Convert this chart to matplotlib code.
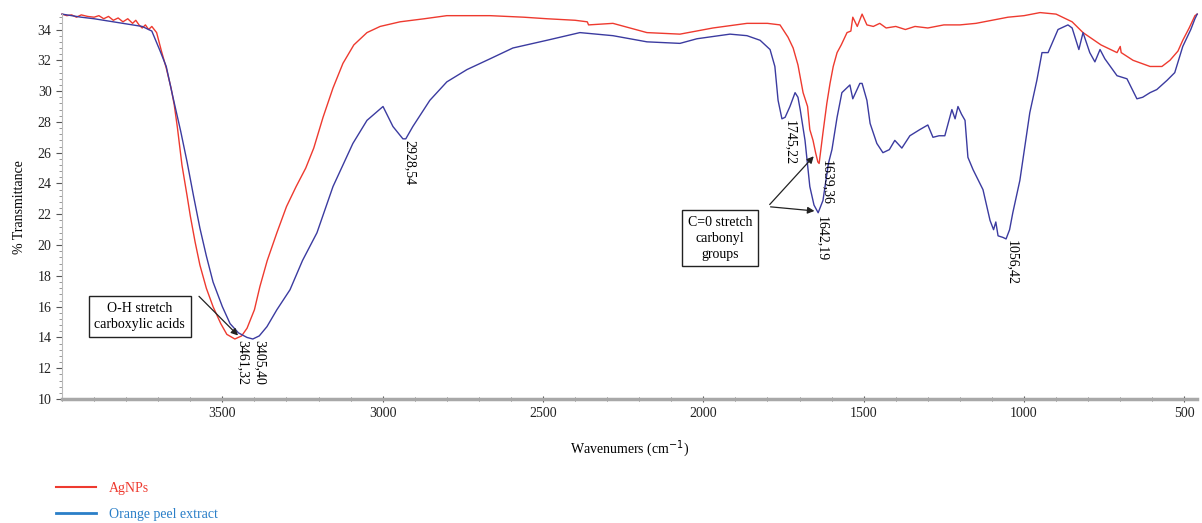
import matplotlib.pyplot as plt
from matplotlib.lines import Line2D
from matplotlib.ticker import MultipleLocator

plt.rcParams['font.family'] = ['Liberation Serif', 'DejaVu Serif']

# AgNPs spectrum (wavenumber, % transmittance)
wn_agnp = [4000, 3985, 3970, 3955, 3940, 3920, 3900, 3885, 3870, 3855, 3840, 3825,
           3810, 3795, 3780, 3770, 3760, 3750, 3740, 3730, 3720, 3705, 3690, 3675,
           3660, 3650, 3640, 3626, 3610, 3600, 3585, 3570, 3550, 3529, 3505, 3486,
           3461, 3440, 3423, 3400, 3383, 3360, 3330, 3300, 3270, 3240, 3215, 3186,
           3155, 3124, 3090, 3049, 3008, 2946, 2870, 2800, 2700, 2665, 2560, 2488,
           2400, 2362, 2358, 2282, 2176, 2073, 1970, 1864, 1800, 1761, 1736, 1720,
           1705, 1689, 1675, 1668, 1658, 1650, 1643, 1639, 1627, 1615, 1605, 1595,
           1583, 1570, 1552, 1540, 1534, 1520, 1505, 1490, 1470, 1450, 1430, 1400,
           1370, 1340, 1300, 1250, 1200, 1150, 1100, 1050, 1000, 950, 900, 850, 816,
           760, 710, 700, 697, 660, 607, 570, 545, 520, 505, 485, 467, 460]
t_agnp = [35.0, 34.9, 34.95, 34.8, 34.95, 34.85, 34.8, 34.9, 34.7, 34.85, 34.6, 34.75,
          34.5, 34.7, 34.4, 34.6, 34.3, 34.1, 34.3, 34.0, 34.2, 33.8, 32.6, 31.5,
          30.2, 29.1, 27.6, 25.2, 23.2, 21.9, 20.2, 18.7, 17.2, 16.0, 14.9, 14.2,
          13.9, 14.1, 14.6, 15.8, 17.3, 19.0, 20.8, 22.5, 23.8, 25.0, 26.3, 28.3,
          30.2, 31.8, 33.0, 33.8, 34.2, 34.5, 34.7, 34.9, 34.9, 34.9, 34.8, 34.7,
          34.6, 34.5, 34.3, 34.4, 33.8, 33.7, 34.1, 34.4, 34.4, 34.3, 33.5, 32.8,
          31.7, 29.9, 29.0, 27.5, 26.8, 26.0, 25.4, 25.3, 27.3, 29.2, 30.5, 31.6,
          32.5, 33.0, 33.8, 33.9, 34.8, 34.2, 35.0, 34.3, 34.2, 34.4, 34.1, 34.2,
          34.0, 34.2, 34.1, 34.3, 34.3, 34.4, 34.6, 34.8, 34.9, 35.1, 35.0, 34.5, 33.8,
          33.0, 32.5, 32.9, 32.5, 32.0, 31.6, 31.6, 32.0, 32.6, 33.3, 34.1, 34.9, 35.0]

# Orange peel extract spectrum
wn_peel = [4000, 3970, 3940, 3900, 3870, 3840, 3810, 3780, 3750, 3720, 3694, 3675,
           3654, 3630, 3610, 3590, 3570, 3550, 3529, 3500, 3476, 3450, 3423, 3405,
           3385, 3361, 3330, 3289, 3250, 3205, 3155, 3093, 3049, 2999, 2968, 2937,
           2928, 2906, 2853, 2800, 2737, 2665, 2594, 2488, 2385, 2282, 2176, 2073,
           2020, 1917, 1864, 1823, 1792, 1777, 1767, 1755, 1745, 1730, 1714, 1705,
           1698, 1683, 1668, 1655, 1642, 1627, 1610, 1599, 1583, 1568, 1543, 1534,
           1512, 1505, 1490, 1480, 1459, 1440, 1420, 1403, 1381, 1356, 1325, 1300,
           1284, 1265, 1247, 1225, 1215, 1206, 1195, 1184, 1175, 1159, 1128, 1106,
           1095, 1088, 1081, 1066, 1056, 1045, 1035, 1013, 982, 960, 944, 925, 894,
           863, 850, 829, 816, 795, 779, 763, 748, 710, 679, 648, 630, 607, 586, 554,
           530, 505, 480, 467, 460]
t_peel = [35.0, 34.9, 34.8, 34.7, 34.6, 34.5, 34.4, 34.3, 34.2, 33.9, 32.6, 31.6,
          29.6, 27.4, 25.4, 23.2, 21.1, 19.3, 17.6, 16.0, 14.9, 14.3, 14.0, 13.9,
          14.1, 14.7, 15.8, 17.1, 19.0, 20.8, 23.8, 26.6, 28.1, 29.0, 27.7, 26.9,
          26.9, 27.7, 29.4, 30.6, 31.4, 32.1, 32.8, 33.3, 33.8, 33.6, 33.2, 33.1,
          33.4, 33.7, 33.6, 33.3, 32.7, 31.6, 29.4, 28.2, 28.3, 29.0, 29.9, 29.6,
          28.8, 26.8, 23.8, 22.6, 22.1, 22.9, 25.3, 26.2, 28.3, 29.9, 30.4, 29.5,
          30.5, 30.5, 29.4, 27.9, 26.6, 26.0, 26.2, 26.8, 26.3, 27.1, 27.5, 27.8,
          27.0, 27.1, 27.1, 28.8, 28.2, 29.0, 28.5, 28.1, 25.7, 24.9, 23.6, 21.6,
          21.0, 21.5, 20.6, 20.5, 20.4, 21.0, 22.1, 24.2, 28.6, 30.7, 32.5, 32.5,
          34.0, 34.3, 34.1, 32.7, 33.8, 32.5, 31.9, 32.7, 32.1, 31.0, 30.8, 29.5,
          29.6, 29.9, 30.1, 30.7, 31.2, 32.9, 34.0, 34.7, 35.0]

x_ticks = [3500, 3000, 2500, 2000, 1500, 1000, 500]

# peak labels: (text, x position, top of label)
peak_labels = [("3461,32", 3436, 13.83), ("3405,40", 3383, 13.83),
               ("2928,54", 2915, 26.8), ("1745,22", 1730, 28.1),
               ("1639,36", 1615, 25.5), ("1642,19", 1630, 21.9),
               ("1056,42", 1038, 20.3)]

red = "#ee3a2f"
blue = "#3b3ba0"

fig = plt.figure(figsize=(12.02, 5.23), dpi=100)
ax = fig.add_axes([0.0516, 0.237, 0.9444, 0.736])

ax.plot(wn_agnp, t_agnp, color=red, lw=1.0, clip_on=False)
ax.plot(wn_peel, t_peel, color=blue, lw=1.0, clip_on=False)

ax.set_xlim(4000, 460)
ax.set_ylim(10, 35)
ax.set_xticks(x_ticks)
ax.xaxis.set_minor_locator(MultipleLocator(100))
ax.yaxis.set_major_locator(MultipleLocator(2))
ax.yaxis.set_minor_locator(MultipleLocator(0.4))
ax.tick_params(axis="both", labelsize=10, colors="#222222")
ax.tick_params(axis="x", which="major", length=5, direction="inout", color="#555555")
ax.tick_params(axis="x", which="minor", length=3, direction="inout", color="#555555")
ax.tick_params(axis="y", which="major", length=4, color="#555555")
ax.tick_params(axis="y", which="minor", length=2, color="#888888")

for s in ["top", "right"]:
    ax.spines[s].set_visible(False)
ax.spines["bottom"].set_color("#a8a8a8")
ax.spines["bottom"].set_linewidth(2.5)
ax.spines["left"].set_color("#bbbbbb")

ax.set_xlabel("Wavenumers (cm$^{-1}$)", fontsize=10, labelpad=13)
ax.set_ylabel("% Transmittance", fontsize=10, labelpad=8)

for txt, x, y in peak_labels:
    ax.text(x, y, txt, rotation=-90, ha="center", va="top", fontsize=10)

# boxed annotations with arrows
box = dict(boxstyle="square,pad=0.4", fc="white", ec="#222222", lw=1)
arrow = dict(arrowstyle="-|>", color="#222222", lw=0.9, mutation_scale=10)
ax.text(3758, 15.36, "O-H stretch\ncarboxylic acids", ha="center", va="center",
        fontsize=10, bbox=box, linespacing=1.3)
ax.annotate("", xy=(3445, 14.0), xytext=(3579, 16.8), arrowprops=arrow)

ax.text(1948, 20.45, "C=0 stretch\ncarbonyl\ngroups", ha="center", va="center",
        fontsize=10, bbox=box, linespacing=1.3)
ax.annotate("", xy=(1650, 25.9), xytext=(1799, 22.5), arrowprops=arrow)
ax.annotate("", xy=(1645, 22.2), xytext=(1799, 22.5), arrowprops=arrow)

handles = [Line2D([], [], color="#ee3a2f", lw=1.5), Line2D([], [], color="#2a7fc8", lw=2)]
leg = fig.legend(handles, ["AgNPs", "Orange peel extract"], loc="lower left",
                 bbox_to_anchor=(0.036, -0.02), frameon=False, fontsize=10,
                 handlelength=2.9, labelspacing=0.95, handletextpad=0.9)
for t, c in zip(leg.get_texts(), ["#ee3a2f", "#2a7fc8"]):
    t.set_color(c)

fig.savefig("out.png", dpi=100)
